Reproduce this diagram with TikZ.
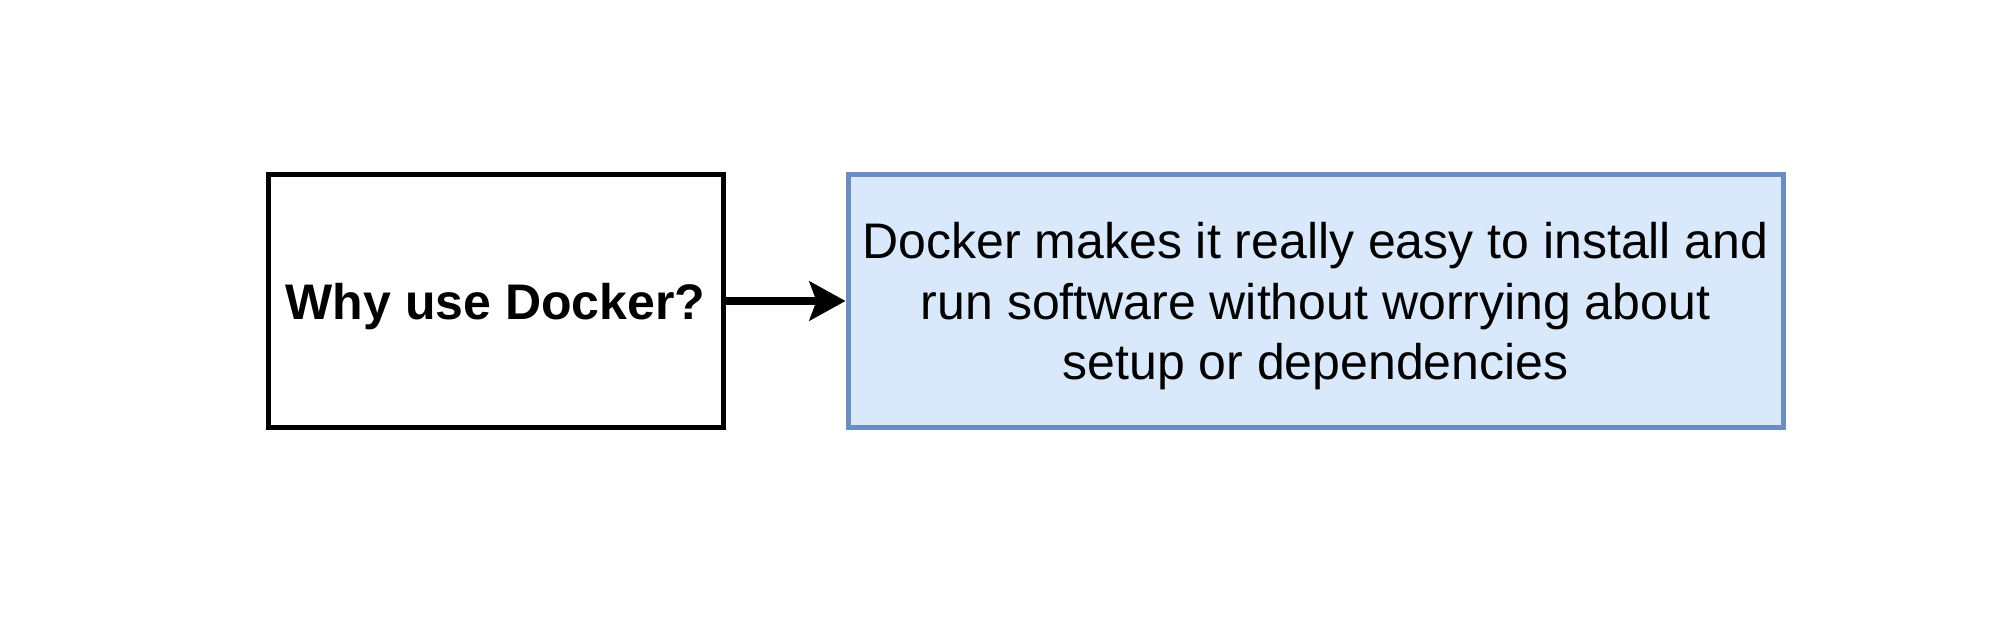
\documentclass[tikz,border=0pt]{standalone}
\usepackage{fontspec}
\setmainfont{Liberation Sans}
\usetikzlibrary{arrows.meta, positioning}
\definecolor{colour_fill}{HTML}{DAE8FC}
\definecolor{colour_line}{HTML}{6C8EBF}

\begin{document}
\begin{tikzpicture}
   [
      box/.style={rectangle, draw, line width=0.1cm, minimum height=5.06cm, text depth=0pt, align=center, font=\fontsize{28.45}{34.4}\selectfont},
      link/.style={line width=0.15cm, -{Stealth[length=0.72cm, width=0.78cm, inset=0.14cm]}},
   ]
   \useasboundingbox (0,0) rectangle (40.02,-12.62);

   % Question
   \node[box, minimum width=9.1cm] (why) at (9.91,-6.02) {\textbf{Why use Docker?}};

   % Answer
   \node[box, draw=colour_line, fill=colour_fill, minimum width=18.7cm, right=2.4cm of why] (answer)
      {Docker makes it really easy to install and\\run software without worrying about\\setup or dependencies};

   % Arrow
   \draw[link] (why) -- (answer);
\end{tikzpicture}
\end{document}
